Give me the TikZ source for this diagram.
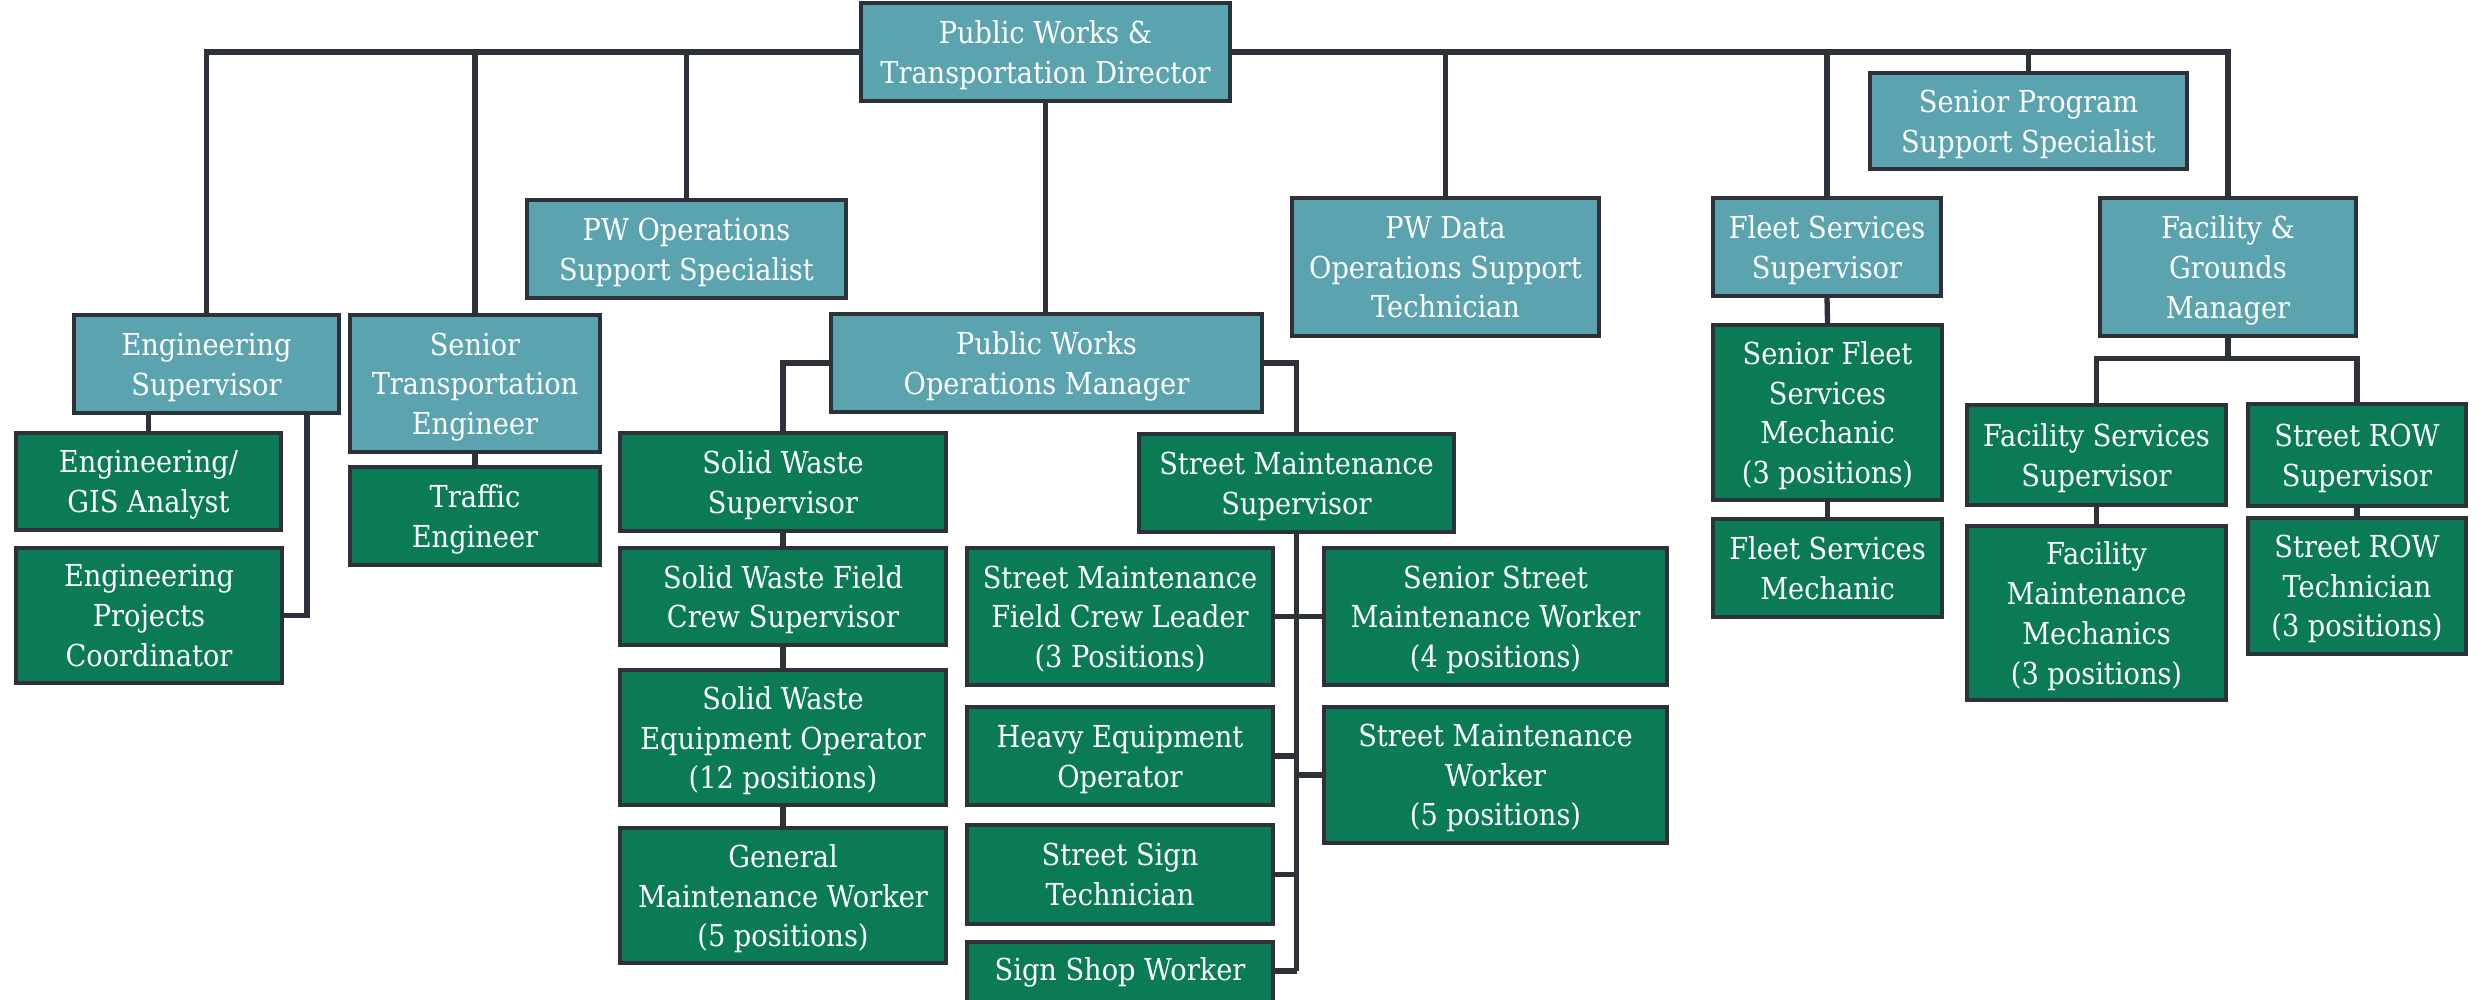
\documentclass[tikz,border=0pt]{standalone}
\usepackage{fontspec}
\setmainfont{DejaVu Serif}[FakeStretch=0.9]
\usetikzlibrary{calc}
\definecolor{orgteal}{RGB}{91,164,175}
\definecolor{orggreen}{RGB}{11,123,86}
\definecolor{orgline}{RGB}{44,49,58}
\tikzset{
  headbox/.style={draw=orgline, line width=1.2pt, fill=orgteal, text=white,
    align=center, inner sep=0pt, text depth=-2.3pt,
    font=\fontsize{8.6}{11.3}\selectfont},
  staffbox/.style={headbox, fill=orggreen},
  link/.style={draw=orgline, line width=1.5pt},
}

\begin{document}
\begin{tikzpicture}[x=0.01cm, y=-0.01cm]
    \useasboundingbox (0,0) rectangle (2483,999);
    % define boxes
    % director and staff reporting to it
    \node[headbox, minimum width=3.69cm, minimum height=0.98cm] (director) at (1045.5,52) {Public Works \&\\Transportation Director};
    \node[headbox, minimum width=3.17cm, minimum height=0.96cm] (prog_spec) at (2028.5,121) {Senior Program\\Support Specialist};
    \node[headbox, minimum width=3.19cm, minimum height=0.98cm] (ops_spec) at (686.5,249) {PW Operations\\Support Specialist};
    \node[headbox, minimum width=3.07cm, minimum height=1.38cm] (data_tech) at (1445.5,267) {PW Data\\Operations Support\\Technician};
    \node[headbox, minimum width=2.28cm, minimum height=0.98cm] (fleet_sup) at (1827,247) {Fleet Services\\Supervisor};
    \node[headbox, minimum width=2.56cm, minimum height=1.38cm] (fac_mgr) at (2228,267) {Facility \&\\Grounds\\Manager};
    \node[headbox, minimum width=2.65cm, minimum height=0.98cm] (eng_sup) at (206.5,364) {Engineering\\Supervisor};
    \node[headbox, minimum width=2.50cm, minimum height=1.37cm] (transp_eng) at (475,383.5) {Senior\\Transportation\\Engineer};
    \node[headbox, minimum width=4.31cm, minimum height=0.98cm] (ops_mgr) at (1046.5,363) {Public Works\\Operations Manager};
    % engineering
    \node[staffbox, minimum width=2.65cm, minimum height=0.97cm] (eng_gis) at (148.5,481.5) {Engineering/\\GIS Analyst};
    \node[staffbox, minimum width=2.66cm, minimum height=1.35cm] (eng_proj) at (149,615.5) {Engineering\\Projects\\Coordinator};
    \node[staffbox, minimum width=2.50cm, minimum height=0.98cm] (traffic) at (475,516) {Traffic\\Engineer};
    % solid waste
    \node[staffbox, minimum width=3.26cm, minimum height=0.98cm] (sw_sup) at (783,482) {Solid Waste\\Supervisor};
    \node[staffbox, minimum width=3.26cm, minimum height=0.97cm] (sw_crew) at (783,596.5) {Solid Waste Field\\Crew Supervisor};
    \node[staffbox, minimum width=3.26cm, minimum height=1.35cm] (sw_oper) at (783,737.5) {Solid Waste\\Equipment Operator\\(12 positions)};
    \node[staffbox, minimum width=3.26cm, minimum height=1.35cm] (gm_worker) at (783,895.5) {General\\Maintenance Worker\\(5 positions)};
    % street maintenance
    \node[staffbox, minimum width=3.15cm, minimum height=0.98cm] (sm_sup) at (1296.5,483) {Street Maintenance\\Supervisor};
    \node[staffbox, minimum width=3.06cm, minimum height=1.37cm] (sm_leader) at (1120,616.5) {Street Maintenance\\Field Crew Leader\\(3 Positions)};
    \node[staffbox, minimum width=3.06cm, minimum height=0.98cm] (heavy_oper) at (1120,756) {Heavy Equipment\\Operator};
    \node[staffbox, minimum width=3.06cm, minimum height=0.99cm] (sign_tech) at (1120,874.5) {Street Sign\\Technician};
    % runs off the bottom edge
    \node[staffbox, minimum width=3.06cm, minimum height=0.76cm, text depth=6.1pt] (sign_shop) at (1120,980) {Sign Shop Worker};
    \node[staffbox, minimum width=3.43cm, minimum height=1.37cm] (sm_senior) at (1495.5,616.5) {Senior Street\\Maintenance Worker\\(4 positions)};
    \node[staffbox, minimum width=3.43cm, minimum height=1.36cm] (sm_worker) at (1495.5,775) {Street Maintenance\\Worker\\(5 positions)};
    % fleet
    \node[staffbox, minimum width=2.29cm, minimum height=1.75cm] (fleet_senior) at (1827.5,412.5) {Senior Fleet\\Services\\Mechanic\\(3 positions)};
    \node[staffbox, minimum width=2.29cm, minimum height=0.98cm] (fleet_mech) at (1827.5,568) {Fleet Services\\Mechanic};
    % facility and grounds
    \node[staffbox, minimum width=2.59cm, minimum height=1.00cm] (fac_sup) at (2096.5,455) {Facility Services\\Supervisor};
    \node[staffbox, minimum width=2.18cm, minimum height=1.02cm] (row_sup) at (2357,455) {Street ROW\\Supervisor};
    \node[staffbox, minimum width=2.59cm, minimum height=1.74cm] (fac_mech) at (2096.5,613) {Facility\\Maintenance\\Mechanics\\(3 positions)};
    \node[staffbox, minimum width=2.18cm, minimum height=1.36cm] (row_tech) at (2357,586) {Street ROW\\Technician\\(3 positions)};
    % helper points for the branch lines
    \coordinate (eng_tap) at (307,413);
    \coordinate (fac_split) at ($(fac_mgr.south)+(0,20)$);
    % draw top bar
    \draw[link] (eng_sup.north) |- (director.west);
    \draw[link] (director.east) -| (fac_mgr.north);
    \foreach \n in {transp_eng, ops_spec, data_tech, fleet_sup, prog_spec}
        \draw[link] (\n.north) -- (\n.north |- director.west);
    \draw[link] (director.south) -- (director.south |- ops_mgr.north);
    % engineering branch
    \draw[link] (eng_gis.north) -- (eng_gis.north |- eng_sup.south);
    \draw[link] (eng_tap |- eng_sup.south) |- (eng_proj.east);
    \draw[link] (transp_eng.south) -- (traffic.north);
    % operations manager branch
    \draw[link] (ops_mgr.west) -| (sw_sup.north);
    \draw[link] (ops_mgr.east) -| (sm_sup.north);
    \draw[link] (sw_sup.south) -- (sw_crew.north);
    \draw[link] (sw_crew.south) -- (sw_oper.north);
    \draw[link] (sw_oper.south) -- (gm_worker.north);
    \coordinate (shop_tap) at (sign_shop.east |- 0,971);
    \draw[link] (sm_sup.south) -- (sm_sup.south |- shop_tap);
    \foreach \n in {sm_leader, heavy_oper, sign_tech}
        \draw[link] (\n.east) -- (\n.east -| sm_sup.south);
    \draw[link] (shop_tap) -- (shop_tap -| sm_sup.south);
    \foreach \n in {sm_senior, sm_worker}
        \draw[link] (\n.west) -- (\n.west -| sm_sup.south);
    % fleet branch
    \draw[link] (fleet_sup.south) -- (fleet_senior.north);
    \draw[link] (fleet_senior.south) -- (fleet_mech.north);
    % facility branch
    \draw[link] (fac_mgr.south) -- (fac_split);
    \draw[link] (fac_sup.north) |- (fac_split) -| (row_sup.north);
    \draw[link] (fac_sup.south) -- (fac_mech.north);
    \draw[link] (row_sup.south) -- (row_tech.north);
\end{tikzpicture}
\end{document}
